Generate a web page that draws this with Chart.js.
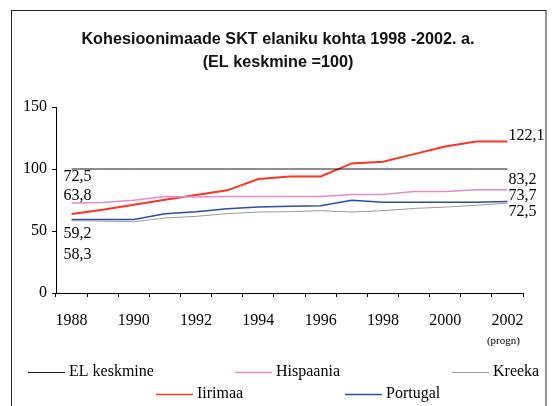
<!DOCTYPE html>
<html>
<head>
<meta charset="utf-8">
<script src="https://cdn.jsdelivr.net/npm/chart.js@4.4.1/dist/chart.umd.min.js"></script>
<style>
  html, body { margin: 0; padding: 0; background: #fff; }
  #wrap { width: 554px; height: 406px; }
</style>
</head>
<body>
<div id="wrap"><canvas id="chartSKT" width="554" height="406"></canvas></div>
<script>
// andmed (loetud pildilt)
const aastad = ['1988', '1989', '1990', '1991', '1992', '1993', '1994', '1995',
  '1996', '1997', '1998', '1999', '2000', '2001', '2002'];
const elKeskmine = [100, 100, 100, 100, 100, 100, 100, 100, 100, 100, 100, 100, 100, 100, 100];
const hispaania = [72.5, 73.0, 74.8, 77.9, 77.5, 77.9, 77.9, 77.9, 77.9, 79.5, 79.5, 81.9, 81.9, 83.2, 83.2];
const kreeka = [58.3, 58.0, 57.4, 60.5, 61.8, 64.0, 65.3, 65.6, 66.4, 65.3, 66.4, 68.2, 69.3, 70.7, 72.5];
const iirimaa = [63.8, 67.2, 71.2, 75.2, 79.0, 82.8, 91.9, 94.0, 94.0, 104.5, 105.9, 112.0, 118.2, 122.1, 122.1];
const portugal = [59.2, 59.2, 59.2, 64.0, 65.6, 68.0, 69.4, 69.9, 70.4, 74.7, 73.1, 73.1, 73.1, 73.1, 73.7];
const yTicks = [0, 50, 100, 150];

// algus- ja lõpuväärtuste siltide asukohad (y telje ühikutes)
const vasakSildid = [['Hispaania', 94], ['Iirimaa', 78.5], ['Portugal', 48], ['Kreeka', 30.5]];
const paremSildid = [['Iirimaa', 126.6], ['Hispaania', 91.4], ['Portugal', 78.2], ['Kreeka', 65.5]];

const serif = "'Liberation Serif', 'Times New Roman', serif";
const fmt = v => v.toFixed(1).replace('.', ',');

// legendi paigutus nagu Exceli joonisel
const legendPos = {
  'EL keskmine': [28, 372],
  'Hispaania': [235, 372],
  'Kreeka': [452, 372],
  'Iirimaa': [156, 394],
  'Portugal': [345, 394]
};

const extras = {
  id: 'extras',
  beforeDraw(chart) {
    const c = chart.ctx;
    c.save();
    c.strokeStyle = '#222';
    c.lineWidth = 1;
    c.strokeRect(11.5, 10.5, 534.5, 500);
    c.restore();
  },
  afterDraw(chart) {
    const c = chart.ctx;
    const x = chart.scales.x, y = chart.scales.y;
    const byLabel = {};
    chart.data.datasets.forEach(d => { byLabel[d.label] = d; });
    c.save();
    c.fillStyle = '#000';
    c.font = '16px ' + serif;
    c.textBaseline = 'middle';
    c.textAlign = 'left';
    const x0 = x.getPixelForValue(0);
    const xN = x.getPixelForValue(aastad.length - 1);
    vasakSildid.forEach(([name, pos]) => {
      c.fillText(fmt(byLabel[name].data[0]), x0 - 8, y.getPixelForValue(pos));
    });
    paremSildid.forEach(([name, pos]) => {
      const d = byLabel[name].data;
      c.fillText(fmt(d[d.length - 1]), xN + 1, y.getPixelForValue(pos));
    });
    // (progn) 2002 alla
    c.font = '11px ' + serif;
    c.textAlign = 'center';
    c.fillText('(progn)', xN - 4, chart.chartArea.bottom + 48);
    // legend
    c.font = '16px ' + serif;
    c.textAlign = 'left';
    chart.data.datasets.forEach(d => {
      const p = legendPos[d.label];
      if (!p) return;
      c.strokeStyle = d.borderColor;
      c.lineWidth = Math.min(d.borderWidth, 1.5);
      c.beginPath();
      c.moveTo(p[0], p[1] + 0.5);
      c.lineTo(p[0] + 37, p[1] + 0.5);
      c.stroke();
      c.fillStyle = '#000';
      c.fillText(d.label, p[0] + 41, p[1]);
    });
    c.restore();
  }
};

new Chart(document.getElementById('chartSKT'), {
  type: 'line',
  data: {
    labels: aastad,
    datasets: [
      { label: 'EL keskmine', data: elKeskmine, borderColor: '#1a1a1a', borderWidth: 1 },
      { label: 'Hispaania', data: hispaania, borderColor: '#e48cc6', borderWidth: 1.5 },
      { label: 'Kreeka', data: kreeka, borderColor: '#9a9a9a', borderWidth: 1 },
      { label: 'Portugal', data: portugal, borderColor: '#2a4ca6', borderWidth: 1.5 },
      { label: 'Iirimaa', data: iirimaa, borderColor: '#ff3322', borderWidth: 2 }
    ]
  },
  options: {
    responsive: false,
    animation: false,
    devicePixelRatio: 1,
    elements: { point: { radius: 0 }, line: { tension: 0 } },
    layout: { padding: { left: 2, right: 0, top: 10, bottom: 73 } },
    plugins: {
      legend: { display: false },
      tooltip: { enabled: false },
      title: {
        display: true,
        text: ['Kohesioonimaade SKT elaniku kohta 1998 -2002. a.', '(EL keskmine =100)'],
        color: '#111',
        font: { family: "'Liberation Sans', Arial, sans-serif", size: 16.2, weight: 'bold', lineHeight: 1.42 },
        padding: { top: 18.5, bottom: 32.5 }
      }
    },
    scales: {
      x: {
        type: 'category',
        offset: true,
        grid: { display: true, drawOnChartArea: false, drawTicks: true, tickLength: 4, color: '#000', offset: true },
        border: { display: true, color: '#000', width: 1 },
        ticks: {
          autoSkip: false,
          maxRotation: 0,
          padding: 14,
          color: '#000',
          font: { family: serif, size: 16 },
          callback: (v, i) => (i % 2 === 0 ? aastad[i] : '')
        },
        afterFit: s => { s.height = 40; }
      },
      y: {
        min: 0,
        max: 150,
        afterBuildTicks: s => { s.ticks = yTicks.map(v => ({ value: v })); },
        grid: { display: true, drawOnChartArea: false, drawTicks: true, tickLength: 4, color: '#000' },
        border: { display: true, color: '#000', width: 1 },
        ticks: { padding: 5, color: '#000', font: { family: serif, size: 16 } },
        afterFit: s => { s.width = 54; }
      },
      // tühi parem telg, et joonise ala lõpeks samas kohas kui originaalil
      yParem: {
        type: 'linear',
        position: 'right',
        min: 0,
        max: 150,
        grid: { display: false },
        border: { display: false },
        ticks: { display: false },
        afterFit: s => { s.width = 31; }
      }
    }
  },
  plugins: [extras]
});
</script>
</body>
</html>
